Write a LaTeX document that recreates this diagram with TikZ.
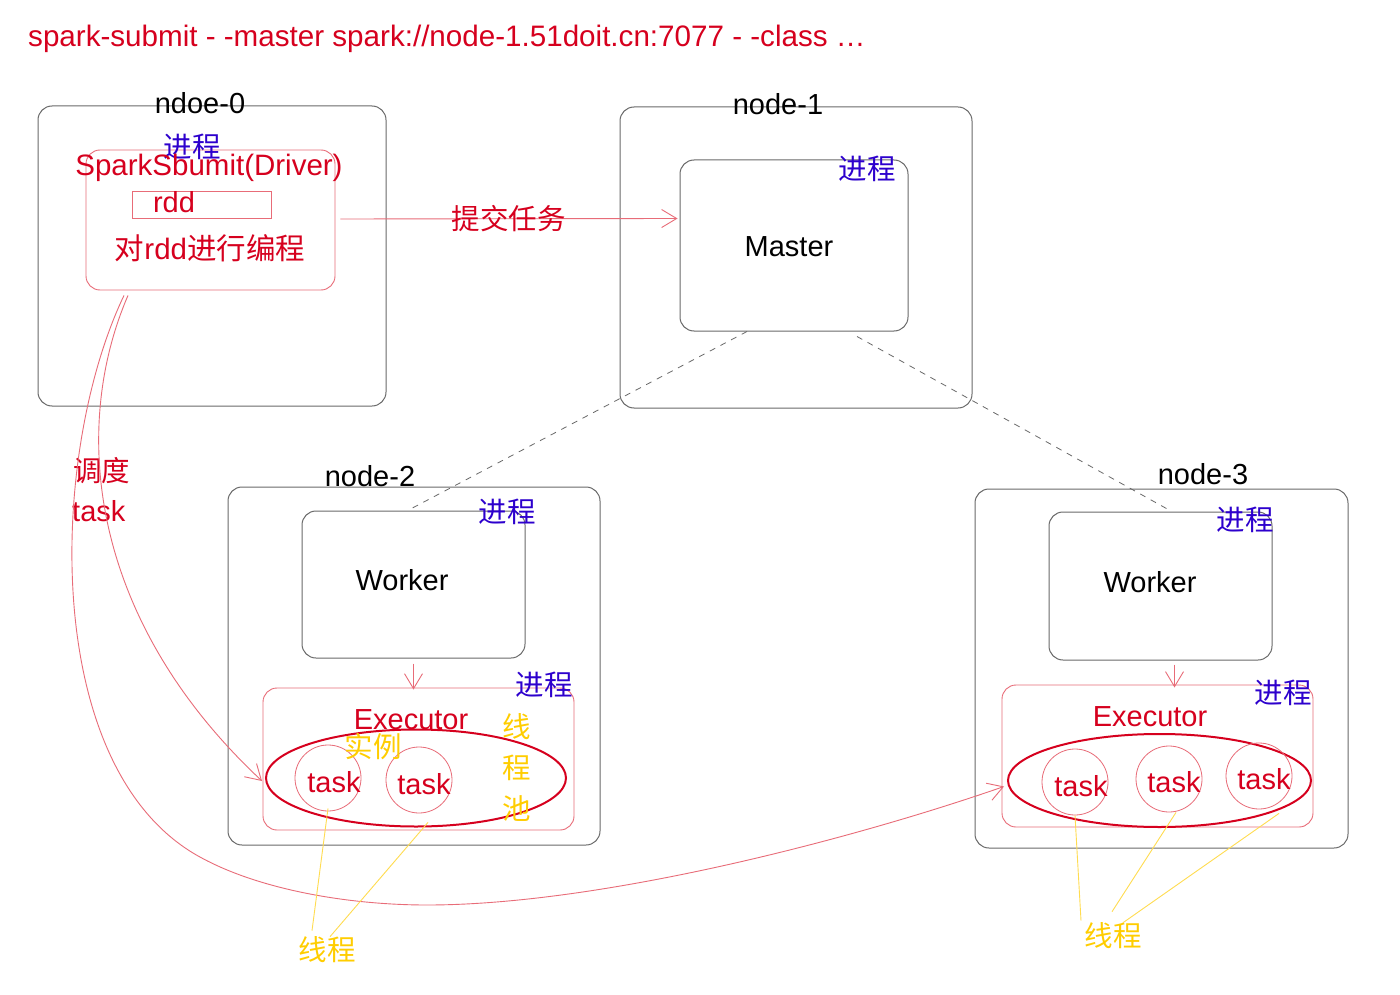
\documentclass[tikz,border=0pt]{standalone}
\usepackage{fontspec}
\setmainfont{Liberation Sans}
\newfontfamily\cjk{Noto Sans CJK SC}
\usetikzlibrary{arrows.meta,shapes.geometric}
\definecolor{zred}{RGB}{214,0,30}
\definecolor{pinkline}{RGB}{232,108,120}
\definecolor{greyline}{RGB}{105,105,105}
\definecolor{zblue}{RGB}{45,0,205}
\definecolor{zyellow}{RGB}{255,205,0}
\definecolor{yline}{RGB}{255,220,80}
\begin{document}
\begin{tikzpicture}[x=1pt,y=-1pt,
  hostbox/.style={draw=greyline,line width=1pt,rounded corners=14pt,inner sep=0pt},
  procbox/.style={draw=greyline,line width=1pt,rounded corners=14pt,inner sep=0pt},
  pinkbox/.style={draw=pinkline,line width=0.9pt,rounded corners=14pt,inner sep=0pt},
  txt/.style={inner sep=0pt,font=\fontsize{29}{34}\selectfont},
  zh/.style={inner sep=0pt,font=\cjk\fontsize{28.5}{34}\selectfont},
  arr/.style={draw=pinkline,line width=0.9pt,-{Straight Barb[length=15pt,width=18pt,line width=0.9pt]}},
  dashline/.style={draw=greyline,line width=0.8pt,dash pattern=on 6pt off 6pt},
  yl/.style={draw=yline,line width=0.9pt},
  pool/.style={ellipse,draw=zred,line width=2pt,inner sep=0pt},
  taskc/.style={circle,draw=pinkline,line width=0.8pt,minimum size=66pt,inner sep=0pt}
]
\fill[white] (0,0) rectangle (1400,995);
\useasboundingbox (0,0) rectangle (1400,995);

% title
\node[inner sep=0pt,font=\fontsize{29.6}{34}\selectfont,text=zred,anchor=base west] (title) at (28,47) {spark-submit - -master spark://node-1.51doit.cn:7077 - -class …};

% host boxes
\node[hostbox,minimum width=348pt,minimum height=300pt] (n0) at (212,256) {};
\node[hostbox,minimum width=352pt,minimum height=301pt] (n1) at (796,257.5) {};
\node[hostbox,minimum width=372pt,minimum height=358pt] (n2) at (414,666) {};
\node[hostbox,minimum width=373pt,minimum height=359pt] (n3) at (1161.5,668.5) {};

% host labels
\node[txt,anchor=base] (n0l) at (200,114) {ndoe-0};
\node[txt,anchor=base] (n1l) at (778,115) {node-1};
\node[txt,anchor=base] (n2l) at (370,486) {node-2};
\node[txt,anchor=base] (n3l) at (1203,484) {node-3};

% driver
\node[pinkbox,minimum width=249pt,minimum height=140pt] (drv) at (210.5,220) {};
\node[draw=pinkline,line width=0.9pt,inner sep=0pt,minimum width=139pt,minimum height=27pt] (rddbox) at (201.5,204.5) {};
\node[zh,text=zblue] (p0) at (192,147) {进程};
\node[inner sep=0pt,font=\fontsize{29.5}{34}\selectfont,text=zred,anchor=base] (drvl) at (209,176) {SparkSbumit(Driver)};
\node[txt,text=zred,anchor=base] (rddl) at (174,213) {rdd};
\node[inner sep=0pt,font=\fontsize{29.5}{34}\selectfont,text=zred] (prog) at (210,248) {{\cjk 对}rdd{\cjk 进行编程}};

% master
\node[procbox,minimum width=228pt,minimum height=171pt] (master) at (794,245.5) {};
\node[txt,anchor=base] (masterl) at (789,256) {Master};
\node[zh,text=zblue] (p1) at (867,169) {进程};

% workers
\node[procbox,minimum width=223pt,minimum height=147pt] (w2) at (413.5,584.5) {};
\node[txt,anchor=base] (w2l) at (402,590) {Worker};
\node[zh,text=zblue] (pw2) at (507,512) {进程};
\node[procbox,minimum width=223pt,minimum height=148pt] (w3) at (1160.5,586) {};
\node[txt,anchor=base] (w3l) at (1150,592) {Worker};
\node[zh,text=zblue] (pw3) at (1245,520) {进程};

% executors
\node[pinkbox,minimum width=311pt,minimum height=142pt] (e2) at (418.5,759) {};
\node[zh,text=zblue] (pe2) at (544,685) {进程};
\node[txt,text=zred,anchor=base] (e2l) at (411,729) {Executor};
\node[pool,minimum width=300pt,minimum height=97pt] (ell2) at (416,778) {};
\node[taskc] (t21) at (328,778) {};
\node[taskc] (t22) at (419,780) {};
\node[txt,text=zred,anchor=base] at (334,792) {task};
\node[txt,text=zred,anchor=base] at (424,794) {task};
\node[zh,text=zyellow] (inst) at (373,747) {实例};
\node[zh,text=zyellow,align=center,font=\cjk\fontsize{28.5}{41}\selectfont] (pooll) at (517,767) {线\\程\\池};

\node[pinkbox,minimum width=311pt,minimum height=142pt] (e3) at (1157.5,756) {};
\node[zh,text=zblue] (pe3) at (1283,693) {进程};
\node[txt,text=zred,anchor=base] (e3l) at (1150,726) {Executor};
\node[pool,minimum width=303pt,minimum height=93pt] (ell3) at (1159.5,780.5) {};
\node[taskc] (t31) at (1075,782) {};
\node[taskc] (t32) at (1169,779) {};
\node[taskc] (t33) at (1259,776) {};
\node[txt,text=zred,anchor=base] at (1081,796) {task};
\node[txt,text=zred,anchor=base] at (1174,792) {task};
\node[txt,text=zred,anchor=base] at (1264,789) {task};

% schedule label
\node[zh,text=zred,anchor=west] (sch1) at (73,471) {调度};
\node[txt,text=zred,anchor=base west] (sch2) at (72,521) {task};

% thread labels
\node[zh,text=zyellow] (l2) at (327,950) {线程};
\node[zh,text=zyellow] (l3) at (1113,936) {线程};

% submit arrow
\draw[arr] ([xshift=5pt,yshift=1pt]drv.east) -- ([xshift=-2pt,yshift=27pt]master.west)
  node[midway,zh,text=zred] (sub) {提交任务};

% dashed links
\draw[dashline] ([xshift=-47pt]master.south) -- ([xshift=-2pt,yshift=2pt]w2.north);
\draw[dashline] ([xshift=63pt,yshift=-5pt]master.south) -- ([xshift=9.5pt,yshift=1pt]w3.north);

% worker -> executor
\draw[arr] ([yshift=-5pt]w2.south) -- ([yshift=-2pt]w2.south |- e2.north);
\draw[arr] ([xshift=14pt,yshift=-4pt]w3.south) -- ++(0,23);

% schedule curves
\draw[arr] ([xshift=-82.5pt,yshift=-5pt]drv.south) .. controls (70,430) and (90,620) .. ([xshift=-3pt,yshift=-3pt]ell2.west);
\draw[arr] ([xshift=-86.5pt,yshift=-5pt]drv.south) .. controls (50,450) and (40,760) .. (193,853)
  .. controls (253,889) and (347,905) .. (427,905)
  .. controls (600,905) and (850,840) .. ([xshift=-3pt,yshift=-6pt]ell3.west);

% thread lines
\draw[yl] ([yshift=3pt]t21.south) -- ([xshift=-15pt,yshift=6pt]l2.north);
\draw[yl] ([xshift=9pt,yshift=-9pt]t22.south) -- ([xshift=3pt]l2.north);
\draw[yl] (t31.south) -- ([xshift=-32pt,yshift=2pt]l3.north);
\draw[yl] ([xshift=7pt]t32.south) -- ([xshift=-1pt,yshift=11pt]l3.north);
\draw[yl] ([xshift=20pt,yshift=-4pt]t33.south) -- ([xshift=10pt]l3.north);
\end{tikzpicture}
\end{document}
